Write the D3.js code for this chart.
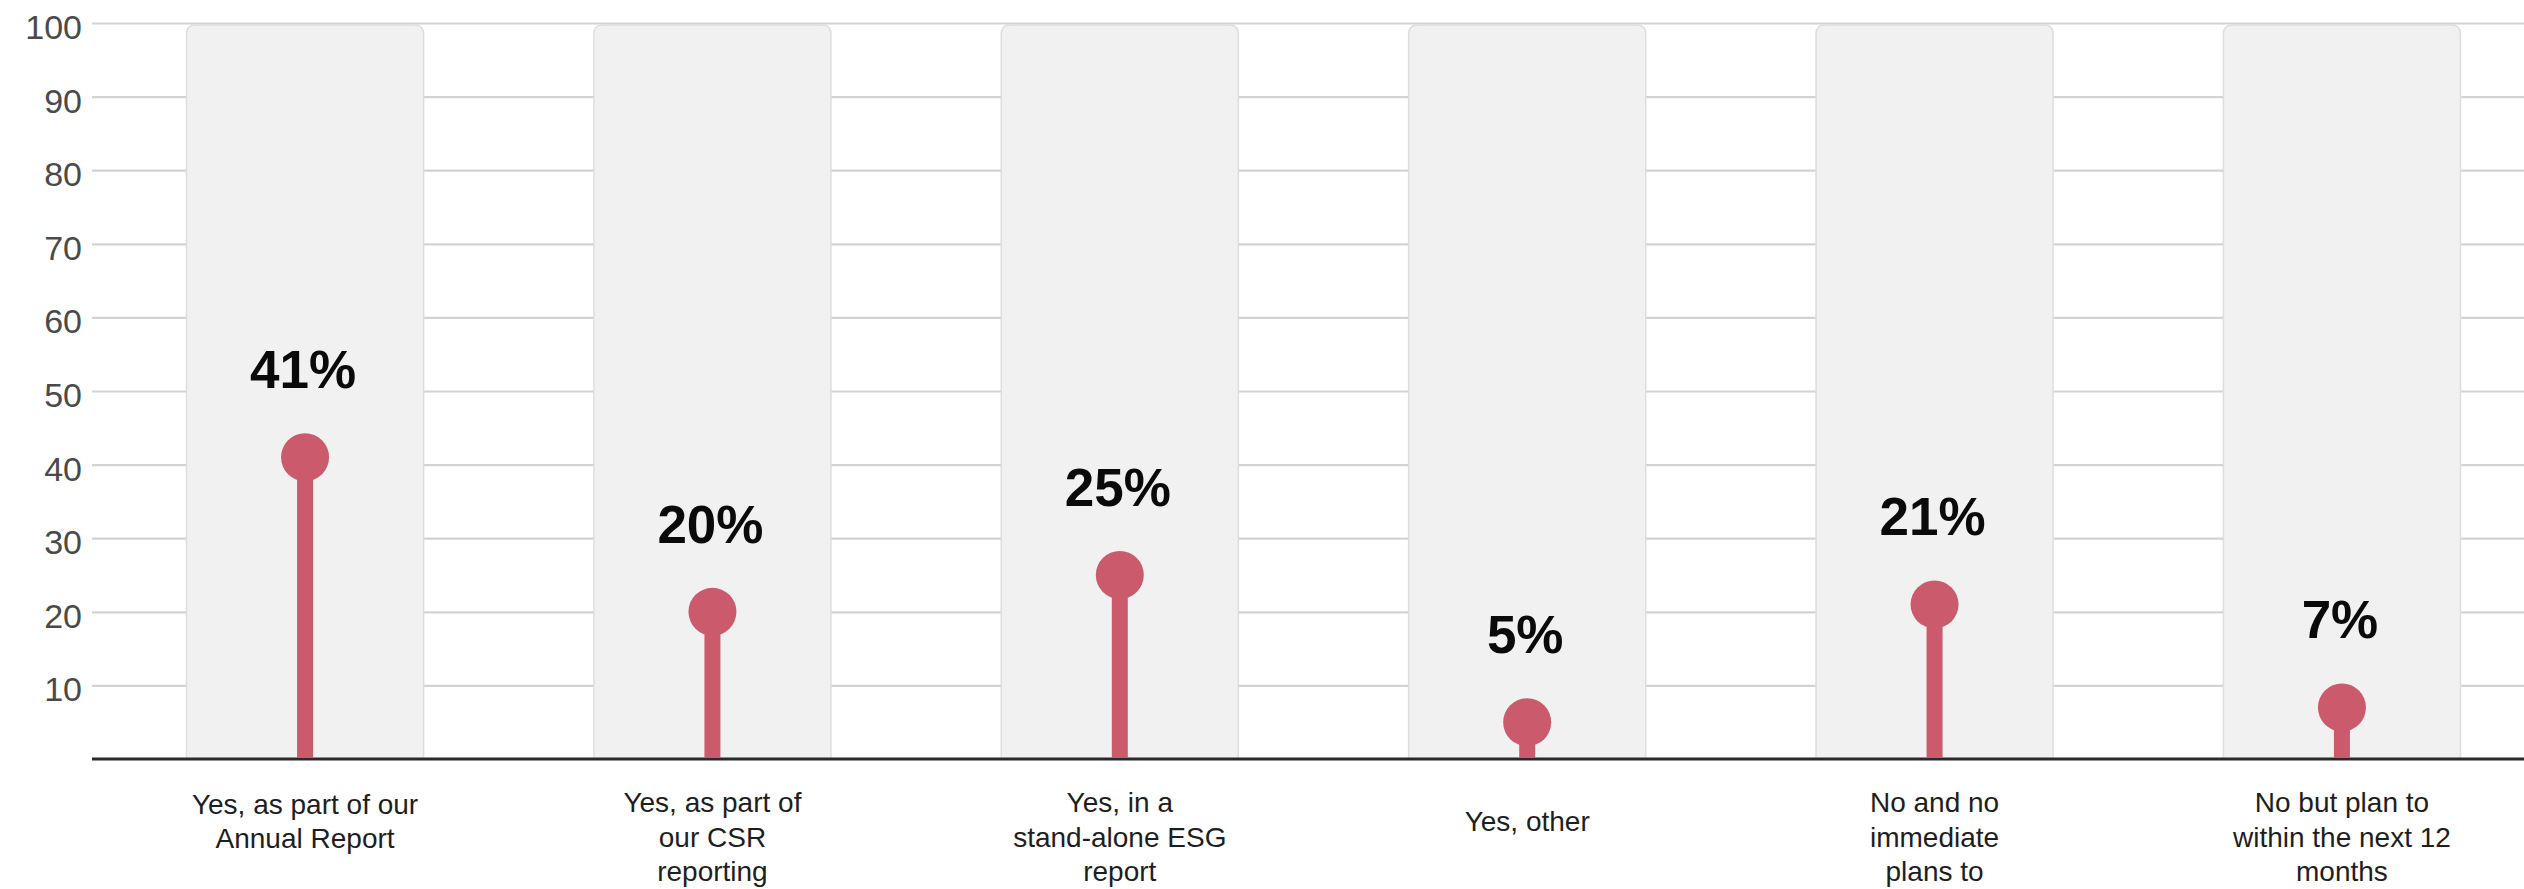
<!DOCTYPE html>
<html>
<head>
<meta charset="utf-8">
<script src="https://cdn.jsdelivr.net/npm/d3@7"></script>
<style>
  html, body { margin: 0; padding: 0; background: #ffffff; }
  svg { display: block; }
  text { font-family: "Liberation Sans", Arial, Helvetica, sans-serif; }
</style>
</head>
<body>
<svg id="chart" width="2524" height="889"></svg>
<script>
// Share of respondents reporting on ESG, by reporting channel
const categories = [
  ["Yes, as part of our", "Annual Report"],
  ["Yes, as part of", "our CSR", "reporting"],
  ["Yes, in a", "stand-alone ESG", "report"],
  ["Yes, other"],
  ["No and no", "immediate", "plans to"],
  ["No but plan to", "within the next 12", "months"]
];
const values = [41, 20, 25, 5, 21, 7];
const yTicks = [10, 20, 30, 40, 50, 60, 70, 80, 90, 100];

const W = 2524, H = 889;
const plotLeft = 92, plotRight = 2555, plotTop = 23, plotBottom = 759;

const svg = d3.select("#chart");

const x = d3.scaleBand()
  .domain(d3.range(categories.length))
  .range([plotLeft, plotRight])
  .paddingInner(0.418)
  .paddingOuter(0.232);

const y = d3.scaleLinear()
  .domain([0, 100])
  .range([plotBottom, plotTop]);

// Horizontal gridlines with value labels
const yAxis = svg.append("g")
  .attr("transform", `translate(${plotLeft},0)`)
  .call(d3.axisLeft(y).tickValues(yTicks).tickSize(-(W - plotLeft)).tickPadding(10));
yAxis.select(".domain").remove();
yAxis.selectAll(".tick line").attr("stroke", "#d3d3d3").attr("stroke-width", 2.2);
yAxis.selectAll(".tick text")
  .attr("fill", "#4a4a4a")
  .attr("font-size", 34)
  .attr("dy", null)
  .attr("y", 15.5);

// Background columns with rounded tops
const colR = 9;
const colPath = (x0, w, top, bottom) =>
  `M${x0},${bottom} L${x0},${top + colR} Q${x0},${top} ${x0 + colR},${top} ` +
  `L${x0 + w - colR},${top} Q${x0 + w},${top} ${x0 + w},${top + colR} L${x0 + w},${bottom} Z`;

svg.append("g").selectAll("path")
  .data(categories)
  .join("path")
  .attr("d", (d, i) => colPath(x(i), x.bandwidth(), y(100) + 2, y(0)))
  .attr("fill", "#f1f1f1")
  .attr("stroke", "#dedede")
  .attr("stroke-width", 1.5);

// Baseline
svg.append("line")
  .attr("x1", plotLeft).attr("x2", W)
  .attr("y1", y(0)).attr("y2", y(0))
  .attr("stroke", "#2a2a2a")
  .attr("stroke-width", 3);

const cx = i => x(i) + x.bandwidth() / 2;
const red = "#cb5b6c";

// Lollipop stems
svg.append("g").selectAll("line")
  .data(values)
  .join("line")
  .attr("x1", (d, i) => cx(i)).attr("x2", (d, i) => cx(i))
  .attr("y1", y(0) - 1).attr("y2", d => y(d))
  .attr("stroke", red)
  .attr("stroke-width", 16);

// Lollipop heads
svg.append("g").selectAll("circle")
  .data(values)
  .join("circle")
  .attr("cx", (d, i) => cx(i))
  .attr("cy", d => y(d))
  .attr("r", 24)
  .attr("fill", red);

// Value labels
svg.append("g").selectAll("text")
  .data(values)
  .join("text")
  .attr("x", (d, i) => cx(i) - 2)
  .attr("y", d => y(d) - 69)
  .attr("text-anchor", "middle")
  .attr("font-size", 53)
  .attr("font-weight", "bold")
  .attr("fill", "#0a0a0a")
  .text(d => d + "%");

// Category labels, wrapped over several lines
const lineH = 34.5;
const catG = svg.append("g");
categories.forEach((lines, i) => {
  const first = Math.max(812, 831 - (lines.length - 1) / 2 * lineH);
  const t = catG.append("text")
    .attr("text-anchor", "middle")
    .attr("font-size", 28)
    .attr("fill", "#1e1e1e");
  lines.forEach((ln, j) => {
    t.append("tspan")
      .attr("x", cx(i))
      .attr("y", first + j * lineH)
      .text(ln);
  });
});
</script>
</body>
</html>
